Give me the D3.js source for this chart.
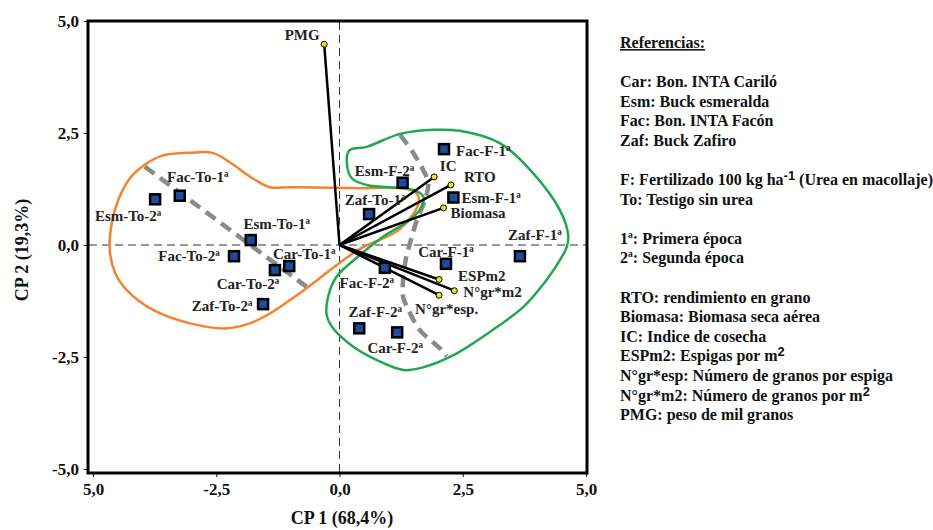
<!DOCTYPE html>
<html>
<head>
<meta charset="utf-8">
<script src="https://cdn.jsdelivr.net/npm/d3@7"></script>
<style>
body { margin: 0; background: #fff; }
svg text { font-family: "Liberation Serif", "DejaVu Serif", serif; font-weight: bold; }
</style>
</head>
<body>
<div id="chart"></div>
<script>
// tratamientos (CP1, CP2)
var tratNames = ["Esm-To-2ª","Fac-To-1ª","Esm-To-1ª","Fac-To-2ª","Car-To-1ª","Car-To-2ª","Zaf-To-2ª","Zaf-To-1ª",
                 "Fac-F-1ª","Esm-F-2ª","Esm-F-1ª","Zaf-F-1ª","Car-F-1ª","Fac-F-2ª","Zaf-F-2ª","Car-F-2ª"];
var tratCP1 = [-3.74,-3.24,-1.80,-2.14,-1.02,-1.31,-1.55,0.60, 2.12,1.28,2.31,3.66,2.16,0.92,0.40,1.17];
var tratCP2 = [ 1.02, 1.10, 0.11,-0.25,-0.47,-0.56,-1.32,0.69, 2.14,1.39,1.06,-0.25,-0.42,-0.51,-1.86,-1.95];

// variables (vectores)
var varNames = ["PMG","IC","RTO","Biomasa","ESPm2","N°gr*m2","N°gr*esp."];
var varCP1 = [-0.31,1.92,2.26,2.11,2.02,2.33,2.02];
var varCP2 = [ 4.48,1.52,1.34,0.83,-0.77,-1.02,-1.12];

var tickValues = [-5,-2.5,0,2.5,5];
var xTickLabels = ["5,0","-2,5","0,0","2,5","5,0"];
var yTickLabels = ["-5,0","-2,5","0,0","2,5","5,0"];

// contornos de grupos (en unidades CP)
var testigoHull = [[-3.95,1.79],[-3.61,1.99],[-3.03,2.06],[-2.56,2.05],[-2.15,1.79],[-1.82,1.53],[-1.41,1.29],[-1.00,1.29],
  [0.21,1.27],[1.53,1.19],[1.61,0.96],[1.23,0.36],[0.38,-0.11],[-0.80,-1.07],[-1.41,-1.53],[-1.82,-1.75],[-2.29,-1.86],
  [-3.03,-1.75],[-3.78,-1.45],[-4.32,-1.00],[-4.55,-0.63],[-4.66,-0.11],[-4.62,0.48],[-4.49,1.00],[-4.25,1.49]];
var fertHull = [[1.23,2.48],[1.90,2.57],[2.44,2.55],[3.26,2.27],[3.93,1.60],[4.47,0.78],[4.64,0.22],[4.61,-0.04],[4.47,-0.34],
  [4.20,-0.78],[3.73,-1.38],[3.05,-1.94],[2.31,-2.46],[1.70,-2.73],[1.29,-2.79],[0.76,-2.57],[0.28,-2.27],[-0.13,-1.86],
  [-0.26,-1.56],[-0.23,-1.15],[-0.06,-0.71],[0.42,-0.22],[0.89,0.19],[1.43,0.56],[1.67,0.86],[1.70,1.08],[1.50,1.23],
  [0.55,1.34],[0.25,1.49],[0.15,1.82],[0.20,2.11],[0.55,2.19]];
var epocaLineLeft = [[-3.95,1.75],[-0.67,-0.93]];
var epocaLineRight = [[1.23,2.46],[1.50,2.05],[1.70,1.67],[1.80,1.38],[1.73,1.00],[1.57,0.56],[1.43,0.04],[1.33,-0.41],
  [1.29,-1.15],[1.40,-1.45],[1.63,-1.90],[2.04,-2.31],[2.17,-2.49]];

var refLines = ["Car: Bon. INTA Cariló","Esm: Buck esmeralda","Fac: Bon. INTA Facón","Zaf: Buck Zafiro","",
  "F: Fertilizado 100 kg ha|-1| (Urea en macollaje)","To: Testigo sin urea","",
  "1ª: Primera época","2ª: Segunda época","",
  "RTO: rendimiento en grano","Biomasa: Biomasa seca aérea","IC: Indice de cosecha","ESPm2: Espigas por m|2|",
  "N°gr*esp: Número de granos por espiga","N°gr*m2: Número de granos por m|2|","PMG: peso de mil granos"];

// posiciones de etiquetas [dx, dy, anchor]
var tratLabelPos = [[-27,17,"middle"],[18,-19,"middle"],[26,-16,"middle"],[-45,0,"middle"],[15,-12,"middle"],[-27,14,"middle"],
  [-41,2,"middle"],[6,-14,"middle"],[12,2,"start"],[-18,-12,"middle"],[8,0,"start"],[15,-21,"middle"],[0,-12,"middle"],
  [-18,15,"middle"],[16,-16,"middle"],[-2,16,"middle"]];
var varLabelPos = [[-22,-9,"middle"],[14,-11,"middle"],[29,-8,"middle"],[7,5,"start"],[19,-3,"start"],[9,1,"start"],[-24,14,"start"]];

var serif = "Liberation Serif, DejaVu Serif, serif";
var W = 933, H = 530;
var svg = d3.select("#chart").append("svg").attr("width", W).attr("height", H)
  .attr("font-family", serif).attr("font-weight", "bold");

var x = d3.scaleLinear().domain([-5, 5]).range([93, 586]);
var y = d3.scaleLinear().domain([-5, 5]).range([469, 21]);

// ejes
svg.append("g")
  .attr("transform", "translate(0,473)")
  .call(d3.axisBottom(x).tickValues(tickValues).tickSize(4).tickPadding(6)
    .tickFormat(function(d, i) { return xTickLabels[i]; }))
  .call(function(g) {
    g.attr("font-family", serif).attr("font-size", 17);
    g.select(".domain").remove();
    g.selectAll("text").attr("fill", "#111");
    g.selectAll("line").attr("stroke", "#111");
  });

svg.append("g")
  .attr("transform", "translate(88,0)")
  .call(d3.axisLeft(y).tickValues(tickValues).tickSize(4).tickPadding(5)
    .tickFormat(function(d, i) { return yTickLabels[i]; }))
  .call(function(g) {
    g.attr("font-family", serif).attr("font-size", 17);
    g.select(".domain").remove();
    g.selectAll("text").attr("fill", "#111");
    g.selectAll("line").attr("stroke", "#111");
  });

// lineas del cero
svg.append("line")
  .attr("x1", x(0)).attr("x2", x(0)).attr("y1", 22).attr("y2", 472)
  .attr("stroke", "#333").attr("stroke-width", 1).attr("stroke-dasharray", "8,5");
svg.append("line")
  .attr("x1", 89).attr("x2", 586).attr("y1", y(0)).attr("y2", y(0))
  .attr("stroke", "#333").attr("stroke-width", 1).attr("stroke-dasharray", "8,5");

var hullLine = d3.line().x(function(d) { return x(d[0]); }).y(function(d) { return y(d[1]); })
  .curve(d3.curveCatmullRomClosed.alpha(0.5));
var epocaLine = d3.line().x(function(d) { return x(d[0]); }).y(function(d) { return y(d[1]); })
  .curve(d3.curveCatmullRom.alpha(0.5));

// lineas de epoca (gris)
[epocaLineLeft, epocaLineRight].forEach(function(pts) {
  svg.append("path").attr("d", epocaLine(pts))
    .attr("fill", "none").attr("stroke", "#8a8a8a").attr("stroke-width", 4.5).attr("stroke-dasharray", "12,7");
});

// grupos
svg.append("path").attr("d", hullLine(testigoHull))
  .attr("fill", "none").attr("stroke", "#f5822f").attr("stroke-width", 2.5);
svg.append("path").attr("d", hullLine(fertHull))
  .attr("fill", "none").attr("stroke", "#1fa84f").attr("stroke-width", 2.5);

// vectores
varNames.forEach(function(n, i) {
  svg.append("line")
    .attr("x1", x(0)).attr("y1", y(0)).attr("x2", x(varCP1[i])).attr("y2", y(varCP2[i]))
    .attr("stroke", "#000").attr("stroke-width", 2.5);
});
varNames.forEach(function(n, i) {
  svg.append("circle")
    .attr("cx", x(varCP1[i])).attr("cy", y(varCP2[i])).attr("r", 3)
    .attr("fill", "#f2e21a").attr("stroke", "#000").attr("stroke-width", 1);
  svg.append("text")
    .attr("x", x(varCP1[i]) + varLabelPos[i][0]).attr("y", y(varCP2[i]) + varLabelPos[i][1] + 5)
    .attr("text-anchor", varLabelPos[i][2])
    .attr("font-size", 15).attr("fill", "#222")
    .text(n);
});

// tratamientos
tratNames.forEach(function(n, i) {
  svg.append("rect")
    .attr("x", x(tratCP1[i]) - 5).attr("y", y(tratCP2[i]) - 5)
    .attr("width", 10).attr("height", 10)
    .attr("fill", "#1f4b9c").attr("stroke", "#000").attr("stroke-width", 2.5);
  svg.append("text")
    .attr("x", x(tratCP1[i]) + tratLabelPos[i][0]).attr("y", y(tratCP2[i]) + tratLabelPos[i][1] + 5)
    .attr("text-anchor", tratLabelPos[i][2])
    .attr("font-size", 15).attr("fill", "#222")
    .text(n);
});

// marco
svg.append("rect")
  .attr("x", 88).attr("y", 21).attr("width", 499).attr("height", 452)
  .attr("fill", "none").attr("stroke", "#000").attr("stroke-width", 3);

// titulos de ejes
svg.append("text").attr("x", 342).attr("y", 524).attr("text-anchor", "middle")
  .attr("font-size", 18).attr("fill", "#111").text("CP 1 (68,4%)");
svg.append("text").attr("transform", "translate(28,250) rotate(-90)").attr("text-anchor", "middle")
  .attr("font-size", 18).attr("fill", "#111").text("CP 2 (19,3%)");

// referencias
svg.append("text").attr("x", 620).attr("y", 48).attr("font-size", 16).attr("fill", "#111")
  .attr("text-decoration", "underline").text("Referencias:");
refLines.forEach(function(s, i) {
  if (!s) return;
  var t = svg.append("text").attr("x", 620).attr("y", 87 + i * 19.6).attr("font-size", 16).attr("fill", "#111");
  var parts = s.split("|");
  parts.forEach(function(p, j) {
    if (j % 2 === 1) {
      t.append("tspan").attr("dy", -5).attr("font-size", 13).attr("font-family", "Liberation Sans").text(p);
    } else {
      t.append("tspan").attr("dy", j > 0 ? 5 : 0).text(p);
    }
  });
});
</script>
</body>
</html>
